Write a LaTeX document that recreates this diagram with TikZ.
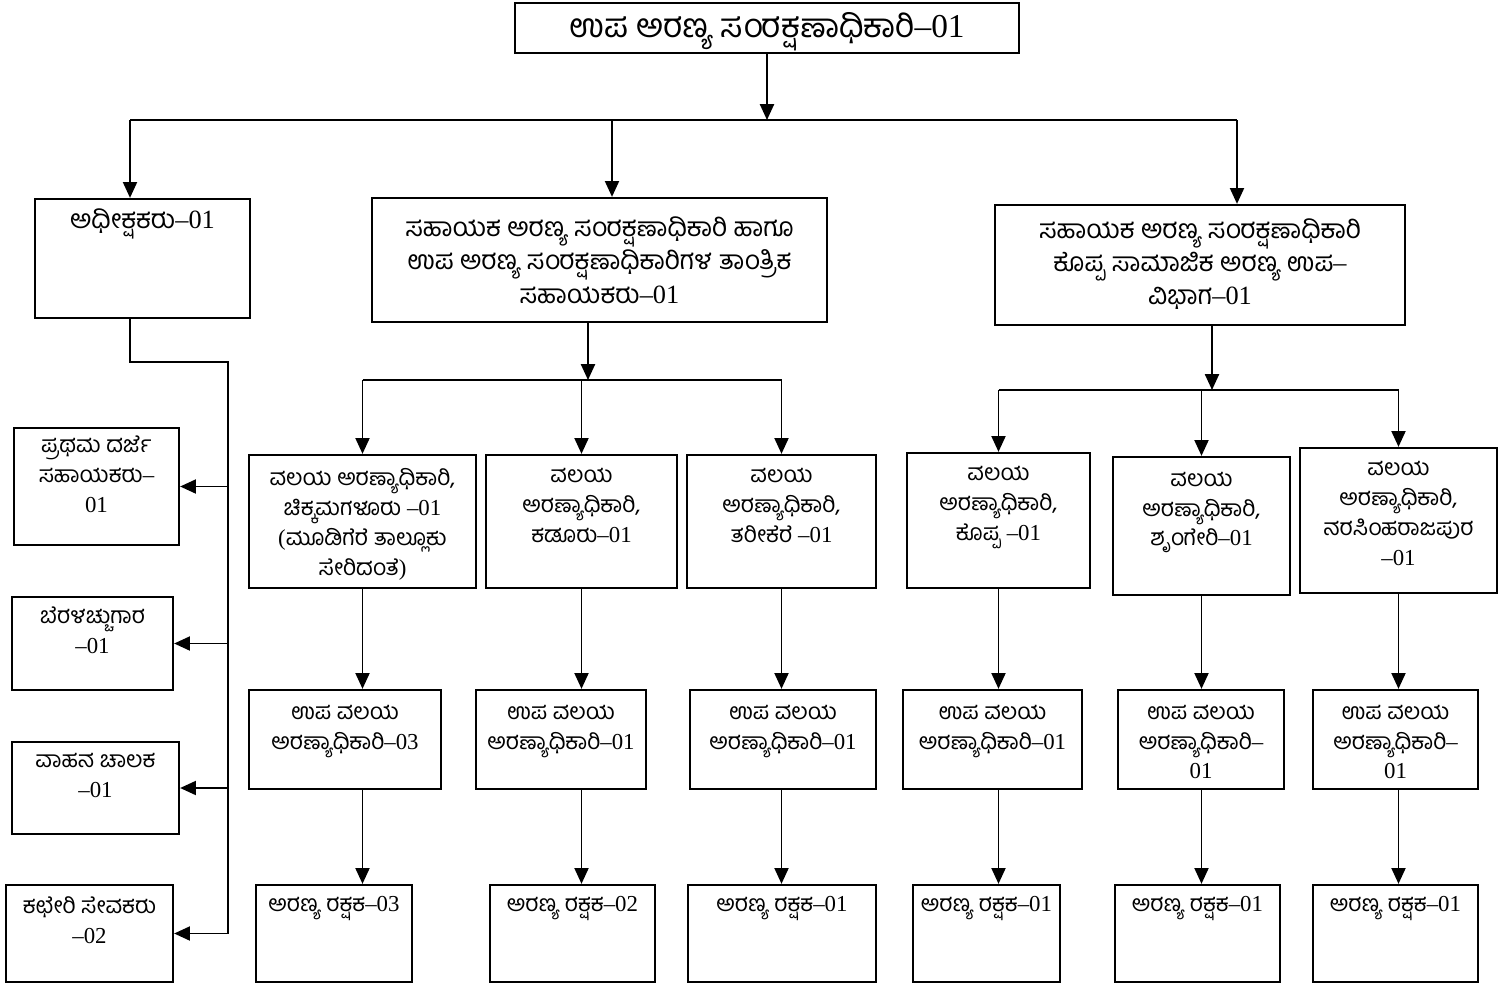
\documentclass[tikz,border=0pt]{standalone}
\usepackage{fontspec}
\setmainfont{Liberation Serif}
\newfontfamily\kn[Script=Kannada]{Hind Mysuru}
\usetikzlibrary{arrows.meta}
\usetikzlibrary{positioning}
\usetikzlibrary{fit}

\tikzset{
  box/.style={draw, line width=1.3pt, inner sep=0pt},
  txt/.style={align=center, inner sep=0pt, font=\fontsize{13}{17}\selectfont},
  head/.style={txt, font=\fontsize{15}{19}\selectfont},
  link/.style={line width=1pt},
  arr/.style={link, -{Triangle[length=9pt,width=8pt]}},
}

\begin{document}
\begin{tikzpicture}[x=0.02cm, y=-0.02cm]
  \useasboundingbox (0,0) rectangle (1509,987);

  % top
  \node[box, fit={(515,3) (1019,53)}] (dcf) {};
  \node[txt, font=\fontsize{19}{22}\selectfont, yshift=-2pt] (dcf-t) at (dcf.center) {{\kn ಉಪ ಅರಣ್ಯ ಸಂರಕ್ಷಣಾಧಿಕಾರಿ}–01};

  % second level
  \node[box, fit={(35,199)  (250,318)}]  (sup) {};
  \node[box, fit={(372,198) (827,322)}]  (aca) {};
  \node[box, fit={(995,205) (1405,325)}] (acs) {};
  \node[head, below=6pt of sup.north]  (sup-t) {{\kn ಅಧೀಕ್ಷಕರು}–01};
  \node[head, below=11pt of aca.north] (aca-t) {{\kn ಸಹಾಯಕ ಅರಣ್ಯ ಸಂರಕ್ಷಣಾಧಿಕಾರಿ ಹಾಗೂ}\\{\kn ಉಪ ಅರಣ್ಯ ಸಂರಕ್ಷಣಾಧಿಕಾರಿಗಳ ತಾಂತ್ರಿಕ}\\{\kn ಸಹಾಯಕರು}–01};
  \node[head, below=8pt of acs.north]  (acs-t) {{\kn ಸಹಾಯಕ ಅರಣ್ಯ ಸಂರಕ್ಷಣಾಧಿಕಾರಿ}\\{\kn ಕೊಪ್ಪ ಸಾಮಾಜಿಕ ಅರಣ್ಯ ಉಪ}–\\{\kn ವಿಭಾಗ}–01};

  % office staff
  \node[box, fit={(14,428) (179,545)}] (st1) {};
  \node[box, fit={(12,597) (173,690)}] (st2) {};
  \node[box, fit={(12,742) (179,834)}] (st3) {};
  \node[box, fit={(6,885)  (173,982)}] (st4) {};
  \node[txt, below=5pt of st1.north] (st1-t) {{\kn ಪ್ರಥಮ ದರ್ಜೆ}\\{\kn ಸಹಾಯಕರು}–\\01};
  \node[txt, below=6pt of st2.north] (st2-t) {{\kn ಬೆರಳಚ್ಚುಗಾರ}\\–01};
  \node[txt, below=7pt of st3.north] (st3-t) {{\kn ವಾಹನ ಚಾಲಕ}\\–01};
  \node[txt, below=7pt of st4.north] (st4-t) {{\kn ಕಛೇರಿ ಸೇವಕರು}\\–02};

  % range offices
  \node[box, fit={(249,455)  (476,588)}]  (r1) {};
  \node[box, fit={(486,455)  (677,588)}]  (r2) {};
  \node[box, fit={(687,455)  (876,588)}]  (r3) {};
  \node[box, fit={(907,453)  (1090,588)}] (r4) {};
  \node[box, fit={(1113,457) (1290,595)}] (r5) {};
  \node[box, fit={(1300,448) (1497,593)}] (r6) {};
  \node[txt, below=8pt of r1.north] (r1-t) {{\kn ವಲಯ ಅರಣ್ಯಾಧಿಕಾರಿ,}\\{\kn ಚಿಕ್ಕಮಗಳೂರು} –01\\({\kn ಮೂಡಿಗೆರೆ ತಾಲ್ಲೂಕು}\\{\kn ಸೇರಿದಂತೆ})};
  \node[txt, below=8pt of r2.north] (r2-t) {{\kn ವಲಯ}\\{\kn ಅರಣ್ಯಾಧಿಕಾರಿ,}\\{\kn ಕಡೂರು}–01};
  \node[txt, below=8pt of r3.north] (r3-t) {{\kn ವಲಯ}\\{\kn ಅರಣ್ಯಾಧಿಕಾರಿ,}\\{\kn ತರೀಕೆರೆ} –01};
  \node[txt, below=8pt of r4.north] (r4-t) {{\kn ವಲಯ}\\{\kn ಅರಣ್ಯಾಧಿಕಾರಿ,}\\{\kn ಕೊಪ್ಪ} –01};
  \node[txt, below=9pt of r5.north] (r5-t) {{\kn ವಲಯ}\\{\kn ಅರಣ್ಯಾಧಿಕಾರಿ,}\\{\kn ಶೃಂಗೇರಿ}–01};
  \node[txt, below=8pt of r6.north] (r6-t) {{\kn ವಲಯ}\\{\kn ಅರಣ್ಯಾಧಿಕಾರಿ,}\\{\kn ನರಸಿಂಹರಾಜಪುರ}\\–01};

  % deputy range offices
  \node[box, fit={(249,690)  (441,789)}]  (d1) {};
  \node[box, fit={(476,690)  (646,789)}]  (d2) {};
  \node[box, fit={(690,690)  (876,789)}]  (d3) {};
  \node[box, fit={(903,690)  (1082,789)}] (d4) {};
  \node[box, fit={(1118,690) (1284,789)}] (d5) {};
  \node[box, fit={(1313,690) (1478,789)}] (d6) {};
  \node[txt, below=9pt of d1.north] (d1-t) {{\kn ಉಪ ವಲಯ}\\{\kn ಅರಣ್ಯಾಧಿಕಾರಿ}–03};
  \node[txt, below=9pt of d2.north] (d2-t) {{\kn ಉಪ ವಲಯ}\\{\kn ಅರಣ್ಯಾಧಿಕಾರಿ}–01};
  \node[txt, below=9pt of d3.north] (d3-t) {{\kn ಉಪ ವಲಯ}\\{\kn ಅರಣ್ಯಾಧಿಕಾರಿ}–01};
  \node[txt, below=9pt of d4.north] (d4-t) {{\kn ಉಪ ವಲಯ}\\{\kn ಅರಣ್ಯಾಧಿಕಾರಿ}–01};
  \node[txt, below=9pt of d5.north] (d5-t) {{\kn ಉಪ ವಲಯ}\\{\kn ಅರಣ್ಯಾಧಿಕಾರಿ}–\\01};
  \node[txt, below=9pt of d6.north] (d6-t) {{\kn ಉಪ ವಲಯ}\\{\kn ಅರಣ್ಯಾಧಿಕಾರಿ}–\\01};

  % forest guards
  \node[box, fit={(256,885)  (412,982)}]  (g1) {};
  \node[box, fit={(490,885)  (655,982)}]  (g2) {};
  \node[box, fit={(688,885)  (876,982)}]  (g3) {};
  \node[box, fit={(913,885)  (1060,982)}] (g4) {};
  \node[box, fit={(1115,885) (1280,982)}] (g5) {};
  \node[box, fit={(1313,885) (1478,982)}] (g6) {};
  \node[txt, below=7pt of g1.north] (g1-t) {{\kn ಅರಣ್ಯ ರಕ್ಷಕ}–03};
  \node[txt, below=7pt of g2.north] (g2-t) {{\kn ಅರಣ್ಯ ರಕ್ಷಕ}–02};
  \foreach \g in {g3,g4,g5,g6}
    \node[txt, below=7pt of \g.north] (\g-t) {{\kn ಅರಣ್ಯ ರಕ್ಷಕ}–01};

  % connectors
  \coordinate (busL) at (130,120);
  \coordinate (busM) at (612,120);
  \coordinate (busR) at (1237,120);
  \coordinate (spine) at (228,362);
  \coordinate (bm) at (588,380);
  \coordinate (br) at (1212,390);

  \draw[arr]  (dcf.south) -- (dcf.south |- busL);
  \draw[link] (busL) -- (busR);
  \draw[arr]  (busL) -- (busL |- sup.north);
  \draw[arr]  (busM) -- (busM |- aca.north);
  \draw[arr]  (busR) -- (busR |- acs.north);

  \draw[link] (busL |- sup.south) -- (busL |- spine) -- (spine) -- (spine |- st4.east);
  \foreach \s in {st1,st2,st3,st4}
    \draw[arr] (spine |- \s.east) -- (\s.east);

  \draw[arr]  (bm |- aca.south) -- (bm);
  \draw[link] (r1.north |- bm) -- (r3.north |- bm);
  \draw[arr]  (br |- acs.south) -- (br);
  \draw[link] (r4.north |- br) -- (r6.north |- br);
  \foreach \r in {r1,r2,r3}
    \draw[arr] (\r.north |- bm) -- (\r.north);
  \foreach \r in {r4,r5,r6}
    \draw[arr] (\r.north |- br) -- (\r.north);

  \foreach \n in {1,...,6}{
    \draw[arr] (r\n.south) -- (r\n.south |- d\n.north);
    \draw[arr] (r\n.south |- d\n.south) -- (r\n.south |- g\n.north);
  }
\end{tikzpicture}
\end{document}
